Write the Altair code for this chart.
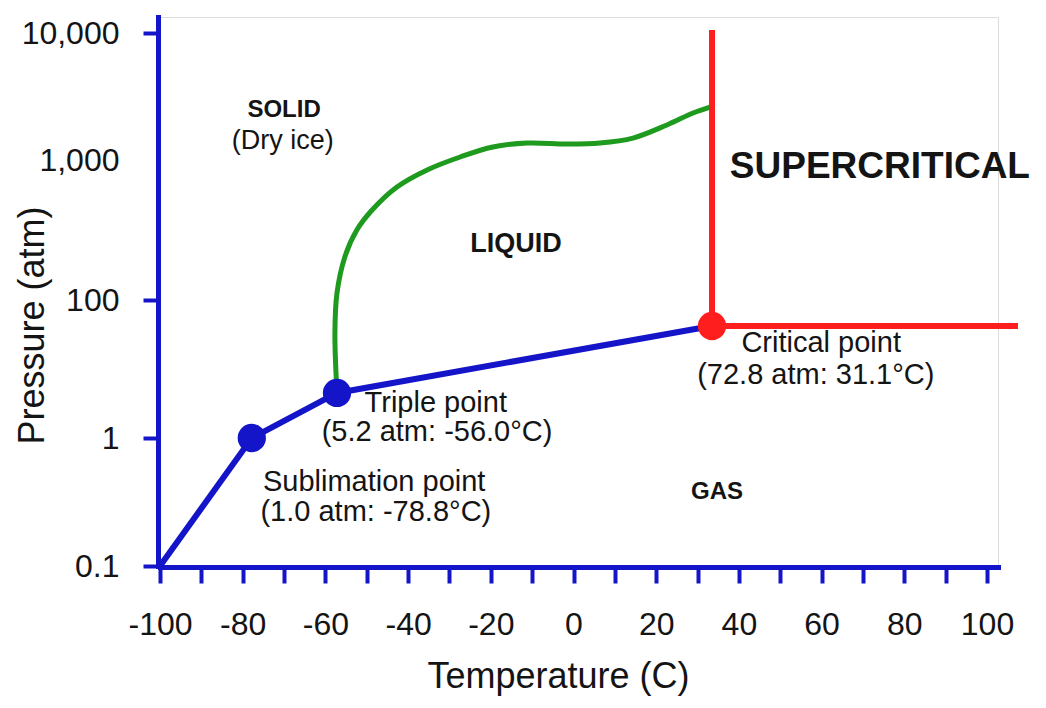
import altair as alt
import pandas as pd

FONT = "Liberation Sans"
BLUE = "#1414c8"
GREEN = "#1e9a1e"
RED = "#ff1e1e"
INK = "#141414"

# ---- data (temperature in °C, pressure in atm) ----
# sublimation / vaporisation boundary (blue)
blue_T = [-100, -77.8, -57.2, 33.5]
blue_P = [0.1, 1.0, 4.5, 42]

# melting curve (green)
green_T = [-57.2, -57.7, -57.2, -55.3, -52.4, -48.7, -42.7, -35.4, -27.4,
           -19.5, -11.2, -1.6, 6.4, 14.4, 22.6, 28.9, 33.0]
green_P = [4.5, 33, 112, 203, 316, 439, 641, 849, 1056,
           1266, 1361, 1337, 1361, 1489, 1888, 2344, 2611]

# critical boundaries (red)
redv_T = [33.5, 33.5]
redv_P = [10570, 42]
redh_T = [33.5, 107.5]
redh_P = [42, 42]

# special points
pt_name = ["Sublimation point", "Triple point", "Critical point"]
pt_T = [-77.8, -57.2, 33.5]
pt_P = [1.0, 4.5, 42]
pt_color = [BLUE, BLUE, RED]

# region / point labels
bold_text = ["SOLID", "LIQUID", "SUPERCRITICAL", "GAS"]
bold_T = [-70.0, -13.9, 74.1, 34.7]
bold_P = [2480, 251, 891, 0.378]
bold_size = [24, 27, 37, 24]

reg_text = ["(Dry ice)", "Critical point", "(72.8 atm: 31.1°C)", "Triple point",
            "(5.2 atm: -56.0°C)", "Sublimation point", "(1.0 atm: -78.8°C)"]
reg_T = [-70.3, 59.9, 58.6, -33.3, -33.0, -48.2, -47.8]
reg_P = [1410, 23.8, 8.19, 3.22, 1.22, 0.453, 0.264]
reg_size = [27, 29, 29, 29, 29, 29, 29]

x_ticks = list(range(-100, 101, 10))
y_ticks = [0.1, 1, 100, 1000, 10000]

# ---- encodings ----
x_axis = alt.Axis(
    values=x_ticks,
    labelExpr="datum.value % 20 == 0 ? '' + datum.value : ''",
    title="Temperature (C)", grid=False,
    domainColor=BLUE, domainWidth=5, domainCap="square",
    tickColor=BLUE, tickWidth=4, tickSize=16,
    labelFont=FONT, labelFontSize=32, labelColor=INK, labelPadding=26,
    labelFlush=False, labelOverlap=False, labelBound=False,
    titleFont=FONT, titleFontSize=36, titleFontWeight="normal", titleColor=INK,
    titleX=398, titleY=120, titleBaseline="alphabetic", titleAlign="center",
    offset=1,
)
y_axis = alt.Axis(
    values=y_ticks,
    labelExpr="format(datum.value, ',')",
    title="Pressure (atm)", grid=False,
    domainColor=BLUE, domainWidth=5, domainCap="square",
    tickColor=BLUE, tickWidth=4, tickSize=15,
    tickOpacity={"condition": {"test": "datum.value == 1000", "value": 0}, "value": 1},
    labelFont=FONT, labelFontSize=32, labelColor=INK, labelPadding=24,
    labelFlush=False, labelOverlap=False, labelBound=False,
    titleFont=FONT, titleFontSize=36, titleFontWeight="normal", titleColor=INK,
    titleAngle=270, titleX=-115, titleY=308, titleBaseline="alphabetic", titleAlign="center",
    offset=2,
)
x_scale = alt.Scale(domain=[-100, 102.66], nice=False, zero=False)
y_scale = alt.Scale(type="log", domain=[0.1, 1, 100, 1000, 10000, 13430],
                    range=[549, 421, 283, 143, 16, 0], nice=False)


def X():
    return alt.X("T:Q", scale=x_scale, axis=x_axis)


def Y():
    return alt.Y("P:Q", scale=y_scale, axis=y_axis)


def path_df(ts, ps):
    return pd.DataFrame({"T": ts, "P": ps, "i": list(range(len(ts)))})


blue_line = alt.Chart(path_df(blue_T, blue_P)).mark_line(
    color=BLUE, strokeWidth=6, clip=False).encode(x=X(), y=Y(), order="i:Q")
green_line = alt.Chart(path_df(green_T, green_P)).mark_line(
    color=GREEN, strokeWidth=5, interpolate="catmull-rom", clip=False).encode(
    x=X(), y=Y(), order="i:Q")
red_v = alt.Chart(path_df(redv_T, redv_P)).mark_line(
    color=RED, strokeWidth=6, clip=False).encode(x=X(), y=Y(), order="i:Q")
red_h = alt.Chart(path_df(redh_T, redh_P)).mark_line(
    color=RED, strokeWidth=6, clip=False).encode(x=X(), y=Y(), order="i:Q")

points = alt.Chart(pd.DataFrame({"name": pt_name, "T": pt_T, "P": pt_P, "c": pt_color})).mark_circle(
    size=800, opacity=1, clip=False).encode(x=X(), y=Y(), color=alt.Color("c:N", scale=None))

bold_labels = alt.Chart(pd.DataFrame({"t": bold_text, "T": bold_T, "P": bold_P, "s": bold_size})).mark_text(
    font=FONT, fontWeight="bold", color=INK, align="center", baseline="middle", clip=False).encode(
    x=X(), y=Y(), text="t:N", size=alt.Size("s:Q", scale=None))
reg_labels = alt.Chart(pd.DataFrame({"t": reg_text, "T": reg_T, "P": reg_P, "s": reg_size})).mark_text(
    font=FONT, color=INK, align="center", baseline="middle", clip=False).encode(
    x=X(), y=Y(), text="t:N", size=alt.Size("s:Q", scale=None))

chart = alt.layer(
    blue_line, green_line, red_v, red_h, points, bold_labels, reg_labels
).properties(
    width=838, height=549,
    autosize=alt.AutoSizeParams(type="none"),
    padding={"left": 152, "top": 9, "right": 40, "bottom": 130},
    background="white",
).configure_view(strokeWidth=0).configure(font=FONT)

chart.save("out.html", embed_options={"renderer": "svg", "actions": False})
